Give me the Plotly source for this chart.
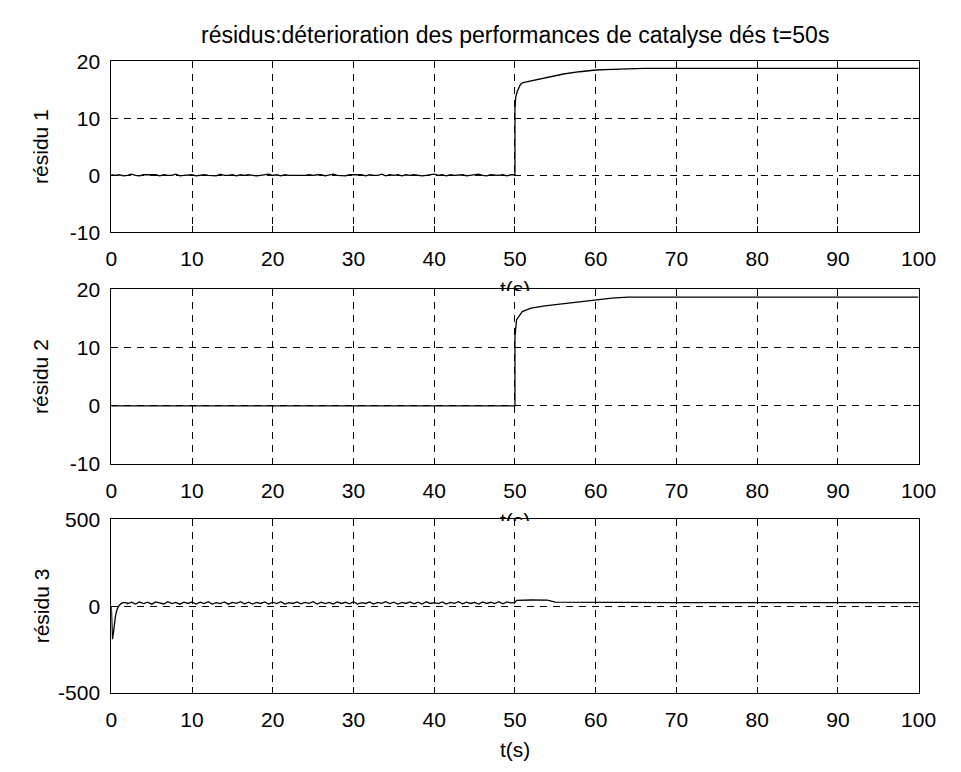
import plotly.graph_objects as go

W, H = 961, 772

# ---- data -------------------------------------------------------------
# résidu 1 : small measurement noise before the fault (sampled every 0.5 s)
r1_noise = [
    0.1, 0.0, 0.1, -0.1, 0.0, 0.2, 0.0, -0.1, 0.1, 0.1,
    0.0, 0.1, -0.1, 0.1, 0.0, 0.0, 0.2, -0.1, 0.0, 0.1,
    0.1, -0.1, 0.0, 0.1, 0.0, 0.0, -0.1, 0.2, 0.0, 0.0,
    0.1, -0.1, 0.1, 0.0, 0.1, 0.0, -0.1, 0.0, 0.1, 0.2,
    0.0, 0.1, -0.1, 0.1, 0.0, 0.0, 0.0, -0.1, 0.0, 0.1,
    0.0, 0.1, 0.1, -0.1, 0.0, 0.2, 0.0, 0.0, -0.1, 0.1,
    0.1, 0.0, 0.1, -0.1, 0.1, 0.0, 0.0, 0.2, -0.1, 0.1,
    0.0, 0.1, -0.1, 0.1, 0.0, 0.1, 0.0, -0.1, 0.0, 0.1,
    0.2, 0.0, 0.1, -0.1, 0.1, 0.0, 0.1, 0.1, -0.1, 0.0,
    0.1, 0.2, 0.0, -0.1, 0.1, 0.0, 0.0, 0.1, -0.1, 0.1,
]
r1_fault_t = [50.0, 50.0, 50.1, 50.3, 50.7, 51, 52, 53, 54, 56, 58, 60, 62, 64, 66, 70, 80, 90, 100]
r1_fault_v = [0.1, 11.6, 13.8, 14.8, 16.0, 16.3, 16.6, 16.9, 17.2, 17.8, 18.2, 18.5, 18.6, 18.7, 18.8, 18.8, 18.8, 18.8, 18.8]

# résidu 2 : noise-free, zero until the fault
r2_t = [0, 50, 50, 50.1, 50.2, 50.9, 52, 53.7, 57, 59.8, 62, 64, 70, 100]
r2_v = [0, 0, 11.8, 13.5, 14.8, 16.2, 16.8, 17.2, 17.7, 18.2, 18.5, 18.7, 18.7, 18.7]

# résidu 3 : initial transient, then a noisy positive level
r3_start_t = [0, 0.05, 0.15, 0.3, 0.5, 0.7, 0.9, 1.2, 1.5, 2.0]
r3_start_v = [0, -60, -190, -140, -60, -20, 0, 15, 22, 18]
r3_noise = [
    14, 24, 13, 25, 15, 23, 12, 25, 17, 13, 26, 15, 22, 12, 24, 16,
    25, 13, 23, 15, 26, 13, 21, 15, 25, 12, 22, 17, 26, 14, 24, 13,
    22, 16, 25, 13, 23, 15, 26, 13, 21, 16, 25, 14, 22, 17, 26, 13,
    24, 15, 22, 13, 25, 16, 23, 14, 26, 13, 21, 16, 25, 13, 22, 17,
    26, 15, 24, 13, 22, 16, 25, 14, 23, 13, 26, 16, 21, 15, 25, 13,
    22, 17, 26, 14, 24, 16, 22, 13, 25, 16, 23, 15, 26, 14, 25, 20,
]
r3_fault_t = [50, 50.2, 52, 54, 55, 60, 70, 80, 90, 100]
r3_fault_v = [22, 34, 36, 35, 24, 22, 21, 21, 21, 21]

x_ticks = [0, 10, 20, 30, 40, 50, 60, 70, 80, 90, 100]
y_tickvals = [[-10, 0, 10, 20], [-10, 0, 10, 20], [-500, 0, 500]]
y_ticktext = [["-10", "0", "10", "20"], ["-10", "0", "10", "20"], ["-500", "0", "500"]]
y_ranges = [[-10, 20], [-10, 20], [-500, 500]]
y_titles = ["résidu 1", "résidu 2", "résidu 3"]
title_text = "résidus:déterioration des performances de catalyse dés t=50s"

# ---- assemble series --------------------------------------------------
t_noise1 = [i * 0.5 for i in range(len(r1_noise))]
r1_t = t_noise1 + r1_fault_t
r1_v = r1_noise + r1_fault_v

t_noise3 = [2.0 + i * 0.5 for i in range(len(r3_noise))]
r3_t = r3_start_t + t_noise3 + r3_fault_t
r3_v = r3_start_v + r3_noise + r3_fault_v

FONT = "Liberation Sans, Arial, sans-serif"
FS = 21
FS_TITLE = 23

# axes boxes in pixels (left, right, top, bottom)
left_px, right_px = 108, 936
boxes = [(51, 227), (286, 466), (523, 702)]

def py(p):
    return 1 - p / H

fig = go.Figure()
series = [(r1_t, r1_v), (r2_t, r2_v), (r3_t, r3_v)]
for i, (tt, vv) in enumerate(series):
    fig.add_trace(go.Scatter(
        x=tt, y=vv, mode="lines",
        line=dict(color="black", width=1.3),
        xaxis="x" if i == 0 else f"x{i+1}",
        yaxis="y" if i == 0 else f"y{i+1}",
        showlegend=False, hoverinfo="skip",
    ))

axis_common = dict(
    showline=True, linecolor="black", linewidth=1, mirror="allticks",
    ticks="inside", ticklen=6, tickcolor="black", tickwidth=1,
    showgrid=True, gridcolor="black", gridwidth=1, griddash="7px,6px",
    zeroline=False, tickfont=dict(family=FONT, size=FS, color="black"),
)

layout = dict(
    width=W, height=H,
    margin=dict(l=0, r=0, t=0, b=0),
    paper_bgcolor="white", plot_bgcolor="white",
    font=dict(family=FONT, size=FS, color="black"),
    showlegend=False,
)

annotations = []
for i, (top, bot) in enumerate(boxes):
    xa = "xaxis" if i == 0 else f"xaxis{i+1}"
    ya = "yaxis" if i == 0 else f"yaxis{i+1}"
    yid = "y" if i == 0 else f"y{i+1}"
    xid = "x" if i == 0 else f"x{i+1}"
    layout[xa] = dict(
        axis_common, domain=[left_px / W, right_px / W], range=[0, 100],
        tickvals=x_ticks, anchor=yid, ticklabelstandoff=8,
    )
    layout[ya] = dict(
        axis_common, domain=[py(bot), py(top)], range=y_ranges[i],
        tickvals=y_tickvals[i], ticktext=y_ticktext[i], anchor=xid,
        ticklabelstandoff=6,
    )
    # rotated y-axis title
    annotations.append(dict(
        text=y_titles[i], textangle=-90, showarrow=False,
        xref="paper", yref="paper", x=36 / W, y=py((top + bot) / 2),
        xanchor="center", yanchor="middle",
        font=dict(family=FONT, size=FS, color="black"),
    ))

# x-axis titles; the upper two are partly hidden behind the next axes
for i, (top, bot) in enumerate(boxes):
    t_top = bot + 45
    label = dict(
        text="t(s)", showarrow=False, xref="paper", yref="paper",
        x=(left_px + right_px) / 2 / W, y=py(t_top),
        xanchor="center", yanchor="top", valign="top", borderpad=0,
        font=dict(family=FONT, size=FS, color="black"),
    )
    if i < 2:
        label["height"] = boxes[i + 1][0] - t_top
    annotations.append(label)

# figure title above the first axes
annotations.append(dict(
    text=title_text, showarrow=False, xref="paper", yref="paper",
    x=(left_px + right_px) / 2 / W, y=py(24), xanchor="center", yanchor="middle",
    font=dict(family=FONT, size=FS_TITLE, color="black"),
))

layout["annotations"] = annotations
fig.update_layout(**layout)
fig.write_html("out.html")
